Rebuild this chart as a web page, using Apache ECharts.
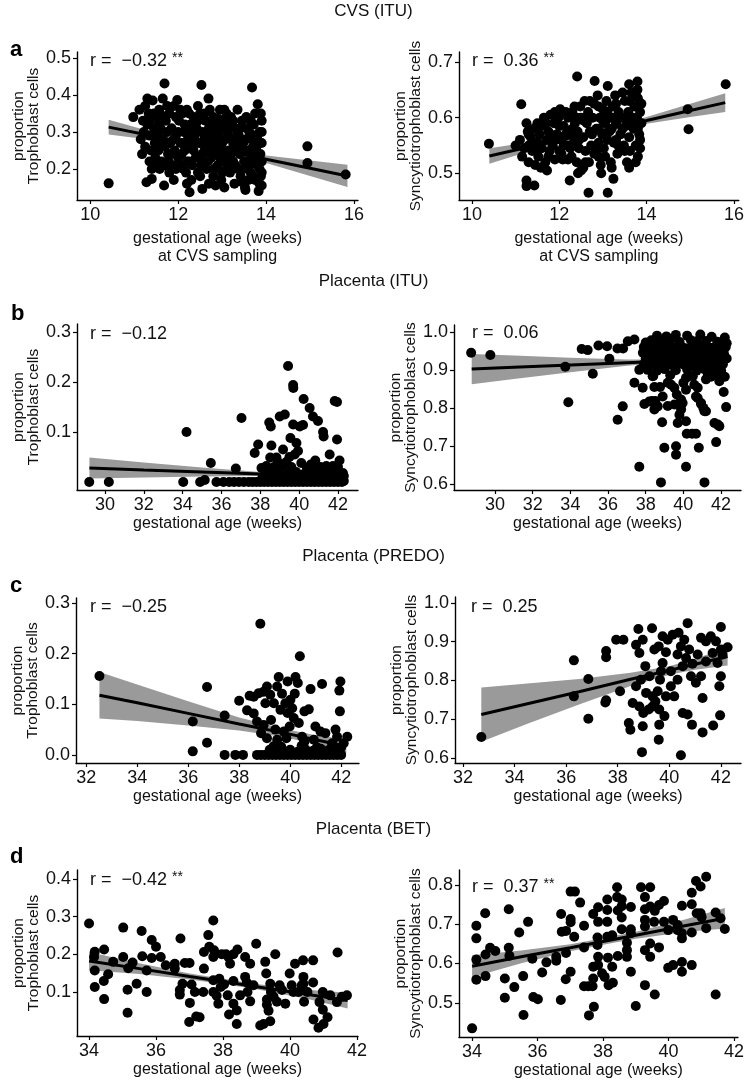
<!DOCTYPE html>
<html>
<head>
<meta charset="utf-8">
<script src="https://cdn.jsdelivr.net/npm/echarts@6/dist/echarts.min.js"></script>
<style>
  html, body { margin: 0; padding: 0; background: #fff; }
  #main { width: 747px; height: 1081px; }
</style>
</head>
<body>
<div id="main"></div>
<script>
// tick values per axis
var xTicksCvs = [10, 12, 14, 16];
var xTicksItu = [30, 32, 34, 36, 38, 40, 42];
var xTicksPredo = [32, 34, 36, 38, 40, 42];
var xTicksBet = [34, 36, 38, 40, 42];
var yTicksA1 = [0.2, 0.3, 0.4, 0.5];
var yTicksA2 = [0.5, 0.6, 0.7];
var yTicksB1 = [0.1, 0.2, 0.3];
var yTicksB2 = [0.6, 0.7, 0.8, 0.9, 1.0];
var yTicksC1 = [0.0, 0.1, 0.2, 0.3];
var yTicksC2 = [0.6, 0.7, 0.8, 0.9, 1.0];
var yTicksD1 = [0.1, 0.2, 0.3, 0.4];
var yTicksD2 = [0.5, 0.6, 0.7, 0.8];

// r labels
var rLabels = ['\u22120.32', '0.36', '\u22120.12', '0.06', '\u22120.25', '0.25', '\u22120.42', '0.37'];
var rStars = ['**', '**', '', '', '', '', '**', '**'];

// fitted line with confidence band: [x, lower, fit, upper]
var bandA1 = [[10.42,0.293,0.313,0.333],[11.5,0.277,0.287,0.297],[12.5,0.256,0.262,0.268],[13.2,0.239,0.245,0.251],[14,0.216,0.226,0.236],[15,0.181,0.202,0.223],[15.85,0.151,0.181,0.211]];
var bandA2 = [[10.4,0.517,0.531,0.545],[11.5,0.544,0.551,0.558],[12.5,0.564,0.568,0.572],[13.2,0.577,0.581,0.585],[14,0.589,0.595,0.601],[15,0.601,0.613,0.625],[15.8,0.610,0.627,0.644]];
var bandB1 = [[29.2,0.007,0.028,0.049],[32,0.009,0.024,0.039],[35,0.011,0.020,0.029],[38,0.012,0.016,0.020],[40,0.010,0.013,0.016],[42.3,0.005,0.010,0.015]];
var bandB2 = [[28.76,0.862,0.902,0.942],[31,0.876,0.907,0.938],[34,0.894,0.913,0.932],[37,0.911,0.919,0.927],[39.5,0.921,0.924,0.927],[42.3,0.924,0.930,0.936]];
var bandC1 = [[32.52,0.072,0.118,0.164],[34,0.067,0.103,0.139],[36,0.058,0.082,0.106],[38,0.048,0.061,0.074],[39.8,0.035,0.043,0.051],[41,0.021,0.030,0.039],[42.2,0.003,0.017,0.031]];
var bandC2 = [[32.71,0.642,0.712,0.782],[34.5,0.688,0.740,0.792],[36.5,0.738,0.771,0.804],[38.5,0.786,0.803,0.820],[40,0.815,0.826,0.837],[41,0.828,0.842,0.856],[42.26,0.839,0.862,0.885]];
var bandD1 = [[34,0.158,0.182,0.206],[35.5,0.148,0.162,0.176],[37,0.133,0.141,0.149],[38,0.121,0.128,0.135],[39,0.107,0.114,0.121],[40.5,0.082,0.094,0.106],[41.72,0.056,0.077,0.098]];
var bandD2 = [[34,0.565,0.593,0.621],[35.5,0.601,0.617,0.633],[37,0.631,0.640,0.649],[38,0.648,0.656,0.664],[39,0.663,0.672,0.681],[40.5,0.680,0.696,0.712],[41.72,0.689,0.715,0.741]];

// CVS (ITU) - Trophoblast
var cvsTrophoPts = [
  [10.42,0.161],[10.98,0.34],[15.81,0.185],[14.94,0.261],[14.94,0.216],[11.69,0.431],[12.53,0.427],[13.68,0.42],[13.81,0.375],[12.69,0.39],[12.26,0.137],
  [11.12,0.36],[11.15,0.28],[11.18,0.24],[11.22,0.30],[11.25,0.26],[11.28,0.164],[11.3,0.39],[11.3,0.32],[11.33,0.35],[11.35,0.22],
  [11.4,0.173],[11.42,0.385],[11.45,0.31],[11.47,0.27],[11.48,0.23],[11.5,0.34],[11.52,0.29],[11.55,0.25],[11.57,0.36],[11.58,0.20],[11.6,0.31],
  [11.62,0.22],[11.65,0.28],[11.68,0.155],[11.7,0.26],[11.72,0.33],[11.75,0.30],[11.77,0.24],[11.8,0.35],[11.8,0.19],[11.82,0.27],
  [11.85,0.31],[11.88,0.21],[11.9,0.37],[11.92,0.25],[11.95,0.29],[11.98,0.386],[12.0,0.23],[12.02,0.33],[12.05,0.27],[12.05,0.21],
  [12.1,0.35],[12.12,0.30],[12.15,0.25],[12.18,0.19],[12.2,0.36],[12.22,0.28],[12.25,0.22],[12.28,0.32],[12.3,0.17],[12.3,0.26],
  [12.35,0.34],[12.38,0.29],[12.4,0.23],[12.42,0.31],[12.45,0.19],[12.48,0.27],[12.5,0.35],[12.52,0.21],[12.55,0.146],[12.55,0.30],
  [12.6,0.25],[12.62,0.33],[12.65,0.20],[12.68,0.28],[12.7,0.16],[12.72,0.36],[12.75,0.23],[12.78,0.30],[12.8,0.26],[12.8,0.18],
  [12.85,0.32],[12.88,0.24],[12.9,0.21],[12.92,0.29],[12.95,0.36],[12.98,0.17],[13.0,0.27],[13.02,0.33],[13.05,0.22],[13.05,0.15],
  [13.1,0.35],[13.12,0.30],[13.15,0.25],[13.18,0.19],[13.2,0.34],[13.22,0.28],[13.25,0.22],[13.28,0.16],[13.3,0.31],[13.3,0.26],
  [13.35,0.20],[13.38,0.29],[13.4,0.24],[13.42,0.18],[13.45,0.33],[13.48,0.27],[13.5,0.22],[13.52,0.15],[13.53,0.143],[13.55,0.34],
  [13.6,0.25],[13.62,0.30],[13.65,0.19],[13.68,0.28],[13.7,0.23],[13.72,0.32],[13.75,0.17],[13.78,0.26],[13.8,0.21],[13.83,0.14],
  [13.85,0.30],[13.87,0.24],[13.88,0.18],[13.9,0.33],[13.9,0.27],[13.9,0.155],
  [11.2,0.33],[11.38,0.25],[11.5,0.21],[11.6,0.27],[11.75,0.37],[11.9,0.28],[12.0,0.30],[12.08,0.24],[12.15,0.32],[12.25,0.35],
  [12.32,0.21],[12.4,0.27],[12.45,0.33],[12.55,0.24],[12.6,0.29],[12.68,0.22],[12.75,0.32],[12.82,0.20],[12.9,0.26],[12.95,0.31],
  [13.0,0.19],[13.08,0.28],[13.12,0.23],[13.18,0.32],[13.25,0.27],[13.3,0.21],[13.38,0.25],[13.42,0.31],[13.48,0.2],[13.55,0.28],
  [13.6,0.22],[13.65,0.33],[13.7,0.18],[13.75,0.29],[13.8,0.24],[13.85,0.20],[13.88,0.35],[13.9,0.22],[12.2,0.16],[12.85,0.155],
  [13.45,0.165],[11.9,0.17],[12.5,0.18],
  [11.25,0.37],[11.35,0.29],[11.45,0.35],[11.55,0.32],[11.65,0.39],[11.7,0.21],[11.85,0.24],[11.95,0.34],[12.05,0.36],[12.1,0.27],
  [12.2,0.22],[12.3,0.29],[12.35,0.25],[12.45,0.37],[12.5,0.23],[12.6,0.35],[12.65,0.26],[12.7,0.31],[12.8,0.34],[12.85,0.28],
  [12.95,0.23],[13.0,0.31],[13.05,0.36],[13.1,0.2],[13.15,0.29],[13.2,0.24],[13.25,0.33],[13.35,0.36],[13.4,0.28],[13.5,0.25],
  [13.55,0.31],[13.6,0.17],[13.7,0.26],[13.75,0.35],[13.8,0.28],[13.85,0.16],[13.9,0.3],[13.9,0.19],[11.4,0.2],[11.55,0.3],
  [11.35,0.33],[11.62,0.345],[11.78,0.22],[12.12,0.2],[12.38,0.33],[12.58,0.275],[12.72,0.245],[12.92,0.335],[13.15,0.215],[13.35,0.3],
  [13.58,0.2],[13.72,0.215],[11.95,0.2],[12.25,0.31],[13.02,0.25]
];

// CVS (ITU) - Syncytiotrophoblast
var cvsSyncPts = [
  [10.39,0.553],[11.13,0.624],[12.41,0.674],[12.81,0.666],[13.11,0.657],[12.67,0.465],[13.11,0.465],[15.81,0.66],[14.94,0.615],[14.96,0.579],
  [11.25,0.477],[11.43,0.478],[11.25,0.487],[12.24,0.487],[12.43,0.5],[12.96,0.5],[13.24,0.49],[13.79,0.665],[13.79,0.65],[13.6,0.66],[13.45,0.645],
  [11.0,0.55],[11.1,0.56],[11.15,0.53],[11.2,0.545],[11.25,0.59],[11.28,0.575],[11.3,0.52],[11.3,0.55],
  [11.35,0.565],[11.38,0.54],[11.42,0.58],[11.45,0.515],[11.5,0.555],[11.52,0.53],[11.55,0.57],[11.58,0.51],[11.6,0.545],[11.6,0.585],
  [11.65,0.6],[11.68,0.52],[11.7,0.56],[11.72,0.505],[11.75,0.575],[11.78,0.54],[11.8,0.605],[11.85,0.55],[11.88,0.59],[11.9,0.525],
  [11.95,0.57],[11.98,0.6],[12.0,0.54],[12.02,0.615],[12.05,0.56],[12.08,0.525],[12.1,0.585],[12.15,0.61],[12.18,0.55],[12.2,0.6],
  [12.25,0.57],[12.28,0.53],[12.3,0.61],[12.33,0.555],[12.36,0.59],[12.4,0.52],[12.42,0.575],[12.45,0.545],[12.48,0.62],[12.5,0.6],[12.5,0.505],
  [12.55,0.565],[12.58,0.63],[12.6,0.54],[12.63,0.59],[12.66,0.61],[12.68,0.52],[12.7,0.575],[12.73,0.55],[12.76,0.6],[12.8,0.625],[12.8,0.535],
  [12.85,0.58],[12.88,0.64],[12.9,0.555],[12.93,0.6],[12.95,0.515],[12.98,0.57],[13.0,0.615],[13.02,0.545],[13.05,0.59],[13.08,0.63],[13.1,0.56],
  [13.15,0.6],[13.18,0.52],[13.2,0.58],[13.22,0.62],[13.25,0.555],[13.28,0.64],[13.3,0.59],[13.33,0.535],[13.36,0.61],[13.4,0.57],
  [13.45,0.6],[13.48,0.55],[13.5,0.63],[13.52,0.585],[13.55,0.52],[13.58,0.61],[13.6,0.565],[13.62,0.54],[13.65,0.645],[13.65,0.595],
  [13.7,0.58],[13.72,0.62],[13.75,0.55],[13.78,0.6],[13.8,0.53],[13.8,0.635],[13.83,0.57],[13.85,0.61],[13.85,0.545],[13.88,0.59],
  [11.5,0.59],[11.8,0.57],[12.1,0.55],[12.3,0.58],[12.6,0.6],[12.9,0.58],[13.2,0.6],[13.4,0.6],[13.6,0.6],[12.4,0.6],
  [12.7,0.6],[13.0,0.57],[12.2,0.575],[11.9,0.56],[13.3,0.56],
  [11.3,0.57],[11.4,0.555],[11.55,0.545],[11.7,0.59],[11.75,0.53],[11.9,0.61],[12.0,0.585],[12.05,0.535],[12.15,0.57],[12.25,0.545],
  [12.35,0.62],[12.45,0.56],[12.55,0.595],[12.6,0.52],[12.7,0.63],[12.75,0.57],[12.85,0.54],[12.9,0.62],[13.0,0.595],[13.05,0.53],
  [13.1,0.61],[13.15,0.575],[13.25,0.6],[13.3,0.625],[13.35,0.55],[13.45,0.58],[13.5,0.54],[13.55,0.6],[13.6,0.63],[13.7,0.6],
  [13.75,0.64],[13.8,0.58],[13.85,0.56],[13.88,0.625],[12.2,0.525],[12.55,0.51],[13.2,0.51],[13.6,0.51],[13.75,0.52],[12.9,0.53]
];

// Placenta (ITU) - Trophoblast
var ituTrophoPts = [
  [29.19,0],[30.2,0],[34.03,0],[34.2,0.1],[34.9,0],[35.14,0.004],[35.45,0.038],[35.74,0],[36.74,0.027],[37.03,0.128],
  [37.71,0.058],[37.89,0.075],[39.43,0.232],[39.69,0.194],[39.7,0.188],[40.23,0.166],[40.54,0.148],[40.71,0.131],[40.97,0.122],[41.83,0.162],
  [41.95,0.16],[39.0,0.131],[39.26,0.135],[38.46,0.119],[38.54,0.111],[39.69,0.115],[40.03,0.111],[40.2,0.114],[39.55,0.088],[39.86,0.078],
  [38.57,0.073],[39.17,0.065],[39.94,0.062],[39.77,0.055],[41.23,0.1],[41.26,0.091],[40.83,0.043],[41.57,0.055],[41.95,0.085],[42.08,0.043],
  [38.51,0.049],[38.83,0.049],[39.34,0.04],[39.14,0.032],[40.11,0.038],[38.31,0.032],[38.06,0.028],[40.97,0.025],[41.4,0.032],[41.74,0.032],
  [38.7,0.03],[39.0,0.025],[39.6,0.03],[40.4,0.028],[40.8,0.02],[41.1,0.03],[42.0,0.03],[38.9,0.04],[39.5,0.05],[40.6,0.035],
  [36.1,0],[36.4,0],[36.65,0],[36.9,0],[37.15,0],[37.4,0],[37.6,0],[37.8,0],[38.0,0],[38.2,0],[38.4,0],[38.6,0],[38.8,0],[39.0,0],
  [39.2,0],[39.4,0],[39.6,0],[39.8,0],[40.0,0],[40.2,0],[40.4,0],[40.6,0],[40.8,0],[41.0,0],[41.2,0],[41.4,0],[41.6,0],[41.8,0],
  [42.0,0],[42.2,0],[42.3,0.002],
  [38.1,0.008],[38.35,0.01],[38.55,0.006],[38.75,0.012],[38.95,0.007],[39.15,0.011],[39.35,0.005],[39.55,0.01],[39.75,0.006],[39.95,0.012],
  [40.15,0.008],[40.35,0.011],[40.55,0.005],[40.75,0.01],[40.95,0.007],[41.15,0.012],[41.35,0.006],[41.55,0.01],[41.75,0.007],[41.95,0.011],
  [42.15,0.006],[42.3,0.012],
  [38.25,0.017],[38.65,0.02],[39.05,0.015],[39.45,0.018],[39.85,0.02],[40.25,0.016],[40.65,0.019],[41.05,0.017],[41.45,0.02],[41.85,0.015],[42.25,0.018]
];

// Placenta (ITU) - Syncytiotrophoblast
var ituSyncPts = [
  [28.73,0.945],[29.75,0.939],[33.73,0.908],[33.89,0.815],[34.6,0.955],[34.92,0.952],[35.19,0.89],[35.49,0.964],[35.95,0.962],[36.07,0.929],
  [36.51,0.769],[36.78,0.804],[36.5,0.956],[36.8,0.956],[37.05,0.975],[37.4,0.98],[37.4,0.866],[37.66,0.645],[37.84,0.853],[37.66,0.9],
  [37.93,0.81],[38.19,0.817],[38.46,0.796],[38.87,0.762],[38.99,0.695],[38.81,0.604],[39.61,0.699],[39.61,0.677],[39.7,0.76],[39.17,0.805],
  [40.14,0.645],[40.18,0.732],[40.46,0.732],[40.67,0.732],[40.14,0.765],[41.12,0.604],[40.82,0.695],[41.74,0.71],[41.83,0.756],[42.27,0.802],
  [42.14,0.842],[40.94,0.81],[41.12,0.791],[40.67,0.83],[40.14,0.879],
  [38.37,0.883],[38.46,0.855],[38.76,0.855],[38.51,0.818],[38.34,0.818],[38.9,0.83],[39.35,0.861],[39.52,0.853],[39.65,0.835],[39.88,0.822],
  [40.0,0.866],[40.14,0.848],[39.88,0.796],[39.52,0.809],[39.79,0.782],[40.28,0.883],[40.76,0.826],[40.94,0.813],[41.06,0.8],[41.2,0.791],
  [40.58,0.861],[40.76,0.853],[41.91,0.87],[41.99,0.892],[41.2,0.875],[41.47,0.882],[39.17,0.866],[38.64,0.804],[41.65,0.76],[41.91,0.752],[39.96,0.813],
  [38.6,0.99],[39.1,0.988],[39.6,0.992],[40.2,0.99],[40.9,0.993],[41.5,0.987],[42.2,0.985],
  [38.0,0.972],[38.3,0.978],[38.8,0.975],[39.3,0.977],[39.8,0.973],[40.4,0.978],[40.7,0.975],[41.2,0.976],[41.8,0.974],[42.3,0.97],
  [37.9,0.96],[38.2,0.958],[38.5,0.962],[38.9,0.96],[39.2,0.963],[39.5,0.958],[39.9,0.961],[40.1,0.957],[40.5,0.962],[40.8,0.959],
  [41.0,0.963],[41.4,0.958],[41.7,0.961],[42.0,0.957],[42.25,0.96],
  [37.85,0.945],[38.1,0.942],[38.4,0.947],[38.7,0.944],[39.0,0.946],[39.4,0.943],[39.7,0.947],[40.0,0.944],[40.3,0.946],[40.6,0.942],
  [40.9,0.947],[41.1,0.944],[41.3,0.946],[41.6,0.943],[41.9,0.947],[42.15,0.944],
  [38.0,0.93],[38.3,0.928],[38.6,0.932],[38.9,0.929],[39.2,0.931],[39.5,0.927],[39.8,0.932],[40.1,0.929],[40.4,0.93],[40.7,0.928],
  [41.0,0.932],[41.3,0.929],[41.6,0.931],[41.9,0.928],[42.3,0.93],
  [37.9,0.915],[38.2,0.913],[38.5,0.917],[38.8,0.914],[39.1,0.916],[39.4,0.912],[39.7,0.917],[40.0,0.914],[40.3,0.916],[40.6,0.912],
  [40.9,0.917],[41.2,0.914],[41.5,0.916],[41.8,0.912],[42.1,0.915],
  [38.1,0.9],[38.6,0.898],[39.0,0.902],[39.6,0.899],[40.2,0.901],[40.7,0.898],[41.1,0.902],[41.4,0.897],[41.7,0.9],[42.0,0.899],
  [38.4,0.884],[39.3,0.886],[40.5,0.883],[41.3,0.887],[41.9,0.885],[42.2,0.882]
];

// Placenta (PREDO) - Trophoblast
var predoTrophoPts = [
  [32.52,0.156],[36.18,0.066],[36.18,0.007],[36.74,0.024],[36.74,0.134],[37.43,0.078],[37.43,0],[37.85,0],[38.15,0],[38.0,0.107],
  [38.83,0.259],[39.55,0.154],[40.21,0.154],[40.38,0.195],[41.25,0.14],[41.97,0.145],[41.93,0.127],[41.95,0.086],[40.73,0.09],[40.8,0.13],[42.24,0.036],
  [38.41,0.117],[38.57,0.115],[38.77,0.122],[38.96,0.125],[39.09,0.135],[39.22,0.119],[39.03,0.102],[39.36,0.102],[39.49,0.135],[39.68,0.121],
  [39.81,0.102],[39.62,0.089],[39.9,0.083],[40.08,0.092],[40.14,0.073],[40.34,0.063],[39.98,0.056],[39.75,0.046],[39.42,0.05],[39.25,0.069],
  [38.96,0.059],[38.7,0.066],[38.57,0.082],[38.31,0.088],[38.86,0.043],[39.09,0.033],[39.49,0.03],[39.85,0.033],[40.47,0.036],[40.56,0.026],
  [40.93,0.03],[41.19,0.046],[41.38,0.043],[41.65,0.023],[41.78,0.05],[41.84,0.036],[42.1,0.023],[40.01,0.109],[40.3,0.142],[39.9,0.145],
  [40.18,0.121],[40.56,0.086],[40.99,0.056],
  [38.7,0],[38.85,0],[39.0,0],[39.15,0],[39.3,0],[39.45,0],[39.6,0],[39.75,0],[39.9,0],[40.05,0],[40.2,0],[40.35,0],[40.5,0],
  [40.65,0],[40.8,0],[40.95,0],[41.1,0],[41.25,0],[41.4,0],[41.55,0],[41.7,0],[41.85,0],[42.0,0],
  [39.2,0.01],[39.5,0.012],[39.7,0.008],[40.0,0.01],[40.3,0.006],[40.6,0.011],[40.9,0.008],[41.2,0.012],[41.5,0.009],[41.8,0.011],
  [42.0,0.015],[39.35,0.017],[39.65,0.016],[40.45,0.018],[41.05,0.015],[41.65,0.018]
];

// Placenta (PREDO) - Syncytiotrophoblast
var predoSyncPts = [
  [32.71,0.654],[36.3,0.852],[36.3,0.759],[36.86,0.804],[36.86,0.701],[37.55,0.876],[37.55,0.86],[37.55,0.749],[37.52,0.743],[37.94,0.905],
  [38.22,0.905],[38.09,0.772],[38.8,0.933],[38.94,0.615],[39.33,0.935],[39.59,0.647],[40.45,0.607],[40.71,0.948],[41.29,0.755],[41.29,0.666],
  [41.7,0.684],[41.97,0.71],[42.0,0.938],[42.26,0.886],[42.0,0.811],[41.94,0.785],[38.43,0.69],[38.49,0.673],
  [38.71,0.892],[38.84,0.871],[38.97,0.905],[39.07,0.837],[38.9,0.802],[38.71,0.785],[38.58,0.742],[38.84,0.733],[38.99,0.716],[39.2,0.725],
  [39.35,0.759],[39.46,0.746],[39.55,0.772],[39.64,0.802],[39.68,0.824],[39.74,0.845],[39.59,0.888],[39.74,0.914],[39.94,0.905],[40.13,0.918],
  [40.36,0.923],[40.58,0.905],[40.77,0.88],[40.45,0.888],[40.65,0.858],[40.9,0.843],[41.1,0.867],[41.23,0.91],[41.42,0.901],[41.61,0.914],
  [41.81,0.901],[41.68,0.871],[41.42,0.849],[41.23,0.811],[41.87,0.845],[40.06,0.824],[40.32,0.802],[40.06,0.785],[39.87,0.759],[40.19,0.759],
  [40.52,0.716],[40.71,0.712],[40.88,0.686],[39.81,0.708],[39.61,0.686],[39.35,0.733],[39.1,0.768],[39.23,0.811],[39.42,0.88],[39.87,0.873],
  [40.32,0.867],[40.52,0.837],[40.84,0.811],[41.03,0.794],[42.06,0.867],[42.0,0.88],[39.61,0.725],[38.97,0.682]
];

// Placenta (BET) - Trophoblast
var betTrophoPts = [
  [34.0,0.282],[34.17,0.207],[34.15,0.193],[34.17,0.157],[34.17,0.113],[34.45,0.213],[34.44,0.129],[34.45,0.081],[34.57,0.147],[34.72,0.18],
  [35.02,0.271],[35.02,0.193],[35.15,0.106],[35.15,0.045],[35.17,0.163],[35.3,0.178],[35.42,0.122],[35.57,0.262],[35.59,0.195],[35.72,0.1],
  [35.72,0.157],[35.87,0.238],[36.0,0.22],[35.87,0.19],[36.14,0.193],[36.29,0.171],[36.56,0.175],[36.56,0.162],[36.73,0.242],[36.71,0.105],
  [36.71,0.093],[36.79,0.122],[36.86,0.177],[37.0,0.177],[36.99,0.02],[37.01,0.071],[37.06,0.12],[37.16,0.1],[37.2,0.035],[37.3,0.033],
  [37.41,0.1],[37.43,0.162],[37.43,0.206],[37.56,0.251],[37.59,0.22],[37.71,0.29],[37.71,0.193],[37.73,0.211],[37.71,0.131],[37.71,0.1],
  [37.81,0.09],[37.86,0.069],[37.89,0.135],[37.96,0.2],[38.09,0.2],[37.93,0.113],[38.03,0.12],[38.16,0.193],[38.21,0.175],[38.14,0.091],
  [38.18,0.04],[38.31,0.2],[38.43,0.213],[38.31,0.129],[38.31,0.069],[38.41,0.051],[38.41,0.015],[38.51,0.091],[38.66,0.193],[38.66,0.14],
  [38.71,0.125],[38.73,0.1],[38.81,0.175],[38.81,0.075],[38.91,0.118],[38.99,0.228],[39.11,0.011],[39.21,0.015],[39.26,0.18],[39.29,0.149],
  [39.31,0.08],[39.31,0.066],[39.36,0.05],[39.41,0.122],[39.43,0.1],[39.41,0.022],[39.51,0.087],[39.56,0.2],[39.61,0.074],[39.69,0.118],
  [39.76,0.105],[39.86,0.069],[39.99,0.149],[40.05,0.118],[40.1,0.1],[40.25,0.1],[40.15,0.175],[40.35,0.118],[40.39,0.184],[40.4,0.14],
  [40.4,0.122],[40.42,0.074],[40.52,0.1],[40.69,0.184],[40.69,0.125],[40.7,0.027],[40.85,0.005],[40.88,0.073],[40.98,0.1],[40.98,0.053],
  [41.0,0.015],[41.12,0.033],[41.2,0.091],[41.4,0.073],[41.42,0.205],[41.55,0.087],[41.7,0.091]
];

// Placenta (BET) - Syncytiotrophoblast
var betSyncPts = [
  [34.0,0.435],[34.13,0.696],[34.13,0.664],[34.13,0.61],[34.13,0.559],[34.4,0.728],[34.41,0.623],[34.41,0.568],[34.55,0.64],[34.71,0.632],
  [35.0,0.513],[35.0,0.562],[35.12,0.738],[35.12,0.64],[35.14,0.62],[35.29,0.54],[35.44,0.679],[35.56,0.568],[35.57,0.469],[35.71,0.706],
  [35.84,0.612],[35.87,0.515],[36.01,0.509],[36.14,0.577],[36.27,0.603],[36.57,0.617],[36.57,0.607],[36.72,0.726],[36.71,0.507],[36.74,0.681],
  [36.86,0.56],[36.87,0.683],[36.87,0.627],[37.01,0.783],[37.14,0.783],[37.01,0.713],[37.01,0.705],[37.01,0.579],[37.12,0.668],[37.3,0.755],
  [37.42,0.696],[37.42,0.641],[37.42,0.542],[37.55,0.542],[37.57,0.468],[37.68,0.542],[37.7,0.562],[37.7,0.592],[37.72,0.49],[37.7,0.726],
  [37.85,0.743],[37.83,0.666],[37.83,0.647],[37.85,0.617],[37.85,0.596],[37.85,0.706],[37.97,0.575],[38.05,0.566],[38.13,0.763],[38.13,0.736],
  [38.13,0.706],[38.13,0.668],[38.15,0.615],[38.17,0.545],[38.28,0.672],[38.28,0.592],[38.3,0.551],[38.43,0.794],[38.43,0.769],[38.45,0.735],
  [38.45,0.619],[38.57,0.763],[38.57,0.746],[38.57,0.717],[38.57,0.687],[38.73,0.653],[38.73,0.634],[38.73,0.617],[38.85,0.744],[38.85,0.687],
  [38.85,0.677],[38.85,0.579],[39.0,0.492],[39.16,0.794],[39.28,0.769],[39.28,0.738],[39.28,0.711],[39.28,0.694],[39.28,0.634],[39.28,0.545],
  [39.44,0.794],[39.44,0.745],[39.44,0.651],[39.44,0.617],[39.56,0.706],[39.58,0.734],[39.58,0.521],[39.71,0.641],[39.71,0.749],[39.86,0.759],
  [39.86,0.706],[39.99,0.685],[39.99,0.589],[40.14,0.596],[40.14,0.711],[40.28,0.698],[40.28,0.685],[40.41,0.747],[40.41,0.677],[40.41,0.664],
  [40.41,0.604],[40.41,0.579],[40.71,0.78],[40.71,0.751],[40.71,0.679],[40.71,0.596],[40.84,0.81],[40.98,0.796],[40.86,0.728],[40.98,0.728],
  [41.01,0.718],[41.15,0.821],[41.15,0.69],[41.44,0.73],[41.44,0.521],[41.59,0.715],[41.72,0.688]
];

var FONT = 'Liberation Sans, Arial, sans-serif';
var INK = '#000';
var TXT = '#111';

// panel layout
var grids = [
  { left: 77, top: 52, width: 281, height: 148 },
  { left: 459, top: 52, width: 282, height: 148 },
  { left: 77, top: 324, width: 281, height: 166 },
  { left: 454, top: 325, width: 287, height: 165 },
  { left: 76, top: 598, width: 283, height: 165 },
  { left: 455, top: 597, width: 286, height: 166 },
  { left: 77, top: 870, width: 281, height: 166 },
  { left: 459, top: 870, width: 282, height: 167 }
];
var xRanges = [[9.7, 16.09], [9.705, 16.11], [28.56, 43.03], [27.82, 43.06], [31.6, 42.7], [31.69, 42.78], [33.64, 42.03], [33.6, 42.12]];
var yRanges = [[0.116, 0.516], [0.452, 0.718], [-0.016, 0.316], [0.584, 1.018], [-0.016, 0.31], [0.587, 1.0155], [-0.017, 0.424], [0.413, 0.838]];
var xTickSets = [xTicksCvs, xTicksCvs, xTicksItu, xTicksItu, xTicksPredo, xTicksPredo, xTicksBet, xTicksBet];
var yTickSets = [yTicksA1, yTicksA2, yTicksB1, yTicksB2, yTicksC1, yTicksC2, yTicksD1, yTicksD2];
var pointSets = [cvsTrophoPts, cvsSyncPts, ituTrophoPts, ituSyncPts, predoTrophoPts, predoSyncPts, betTrophoPts, betSyncPts];
var bandSets = [bandA1, bandA2, bandB1, bandB2, bandC1, bandC2, bandD1, bandD2];
var rPos = [[90, 51], [472, 51], [90, 324], [472, 323], [90, 597], [471, 597], [90, 870], [472, 877]];

var xAxes = [], yAxes = [], series = [], titles = [];

grids.forEach(function (g, i) {
  var left = i % 2 === 0;
  var cvs = i < 2;
  xAxes.push({
    gridIndex: i, type: 'value', min: xRanges[i][0], max: xRanges[i][1],
    name: cvs ? 'gestational age (weeks)\nat CVS sampling' : 'gestational age (weeks)',
    nameLocation: 'middle', nameGap: cvs ? 30 : 23,
    nameTextStyle: { fontSize: 16, color: TXT, fontFamily: FONT, lineHeight: 18, verticalAlign: 'top' },
    axisLine: { show: true, onZero: false, lineStyle: { color: INK, width: 1.4 } },
    axisTick: { show: true, length: 4, customValues: xTickSets[i], lineStyle: { color: INK, width: 1.2 } },
    axisLabel: { customValues: xTickSets[i], fontSize: 18, color: TXT, fontFamily: FONT, margin: 6 },
    splitLine: { show: false }
  });
  yAxes.push({
    gridIndex: i, type: 'value', min: yRanges[i][0], max: yRanges[i][1],
    name: left ? 'proportion\nTrophoblast cells' : 'proportion\nSyncytiotrophoblast cells',
    nameLocation: 'middle', nameRotate: 90, nameGap: 35,
    nameTextStyle: { fontSize: 15.5, color: TXT, fontFamily: FONT, lineHeight: 15 },
    axisLine: { show: true, onZero: false, lineStyle: { color: INK, width: 1.4 } },
    axisTick: { show: true, length: 4, customValues: yTickSets[i], lineStyle: { color: INK, width: 1.2 } },
    axisLabel: {
      customValues: yTickSets[i], fontSize: 18, color: TXT, fontFamily: FONT, margin: 6,
      formatter: function (v) { return Number(v).toFixed(1); }
    },
    splitLine: { show: false }
  });

  var rows = bandSets[i];
  // confidence band
  series.push({
    type: 'custom', xAxisIndex: i, yAxisIndex: i, silent: true, z: 1,
    data: [[rows[0][0], rows[0][2]]],
    encode: { x: 0, y: 1 },
    renderItem: function (params, api) {
      var up = rows.map(function (r) { return api.coord([r[0], r[3]]); });
      var lo = rows.slice().reverse().map(function (r) { return api.coord([r[0], r[1]]); });
      return { type: 'polygon', shape: { points: up.concat(lo) }, style: { fill: '#9a9a9a' } };
    }
  });
  // fitted line
  series.push({
    type: 'line', xAxisIndex: i, yAxisIndex: i, silent: true, z: 2,
    data: rows.map(function (r) { return [r[0], r[2]]; }),
    showSymbol: false, symbol: 'none', smooth: false,
    lineStyle: { color: INK, width: 3 }
  });
  // points
  series.push({
    type: 'scatter', xAxisIndex: i, yAxisIndex: i, silent: true, z: 3,
    data: pointSets[i], symbolSize: 10,
    itemStyle: { color: INK, opacity: 1 }
  });

  titles.push({
    left: rPos[i][0], top: rPos[i][1], padding: 0,
    text: '{m|r =  ' + rLabels[i] + '}' + (rStars[i] ? ' {s|' + rStars[i] + '}' : ''),
    textStyle: {
      fontWeight: 'normal',
      rich: {
        m: { fontSize: 18, fontWeight: 'normal', color: TXT, fontFamily: FONT, lineHeight: 20 },
        s: { fontSize: 14, fontWeight: 'normal', color: TXT, fontFamily: FONT, verticalAlign: 'top', lineHeight: 20 }
      }
    }
  });
});

// section headers
[['CVS (ITU)', 3], ['Placenta (ITU)', 273], ['Placenta (PREDO)', 548], ['Placenta (BET)', 821]].forEach(function (h) {
  titles.push({ left: 'center', top: h[1], padding: 0, text: h[0],
    textStyle: { fontSize: 17, fontWeight: 'normal', color: TXT, fontFamily: FONT } });
});
// panel letters
[['a', 10, 39], ['b', 11, 303], ['c', 10, 575], ['d', 10, 846]].forEach(function (p) {
  titles.push({ left: p[1], top: p[2], padding: 0, text: p[0],
    textStyle: { fontSize: 22, fontWeight: 'bold', color: INK, fontFamily: FONT } });
});

var chart = echarts.init(document.getElementById('main'), null, { renderer: 'canvas' });
chart.setOption({
  animation: false,
  backgroundColor: '#fff',
  textStyle: { fontFamily: FONT },
  title: titles,
  grid: grids,
  xAxis: xAxes,
  yAxis: yAxes,
  series: series
});
</script>
</body>
</html>
